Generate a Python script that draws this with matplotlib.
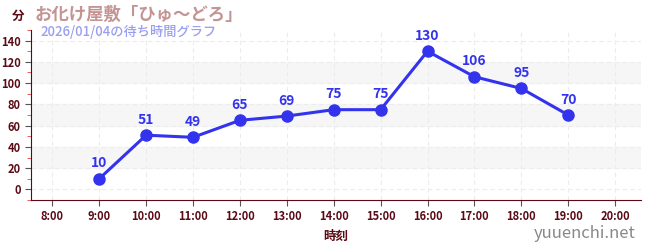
import matplotlib
matplotlib.use('Agg')
import matplotlib.pyplot as plt
from matplotlib.ticker import MultipleLocator

plt.rcParams['font.family'] = ['Noto Sans CJK JP', 'DejaVu Sans']

# data
hours = [9, 10, 11, 12, 13, 14, 15, 16, 17, 18, 19]
waits = [10, 51, 49, 65, 69, 75, 75, 130, 106, 95, 70]
tick_hours = list(range(8, 21))
tick_labels = ['%d:00' % h for h in tick_hours]
title = 'お化け屋敷「ひゅ～どろ」'
subtitle = '2026/01/04の待ち時間グラフ'

dark = '#5a0a14'
blue = '#3333ee'

fig = plt.figure(figsize=(6.5, 2.5), dpi=100)
ax = fig.add_axes([0.048, 0.2, 0.938, 0.68])

ax.set_xlim(7.55, 20.55)
ax.set_ylim(-10, 150)

# background bands
for lo in (20, 60, 100):
    ax.axhspan(lo, lo + 20, color='#f6f6f6', zorder=0)

ax.set_xticks(tick_hours)
ax.set_xticklabels(tick_labels)
ax.yaxis.set_major_locator(MultipleLocator(20))
ax.yaxis.set_minor_locator(MultipleLocator(10))
ax.grid(True, which='major', color='#ececec', linestyle=(0, (4, 3)), linewidth=0.8, zorder=0)

ax.tick_params(axis='both', which='major', labelsize=8, colors='#555555', labelcolor=dark, length=4)
ax.tick_params(axis='y', which='minor', colors='#ee4444', length=3)
for lbl in ax.get_xticklabels() + ax.get_yticklabels():
    lbl.set_fontweight('bold')

for s in ('top', 'right'):
    ax.spines[s].set_visible(False)
for s in ('left', 'bottom'):
    ax.spines[s].set_color(dark)

ax.plot(hours, waits, color=blue, linewidth=2.2, marker='o', markersize=8, zorder=3)
for h, w in zip(hours, waits):
    ax.annotate(str(w), (h, w), xytext=(0, 6), textcoords='offset points',
                ha='center', va='bottom', color=blue, fontsize=10, fontweight='bold')

ax.set_xlabel('時刻', color=dark, fontsize=9, fontweight='bold', labelpad=5)

fig.text(0.028, 0.935, '分', color=dark, fontsize=9, fontweight='bold', ha='center', va='center')
fig.text(0.054, 0.94, title, color='#c49494', fontsize=12.5, fontweight='bold', va='center')
fig.text(0.062, 0.872, subtitle, color='#9a9ef0', fontsize=9.5, fontweight='medium', va='center')
fig.text(0.978, 0.065, 'yuuenchi.net', color='#888888', fontsize=12, ha='right', va='center')

fig.savefig('out.png', dpi=100)
